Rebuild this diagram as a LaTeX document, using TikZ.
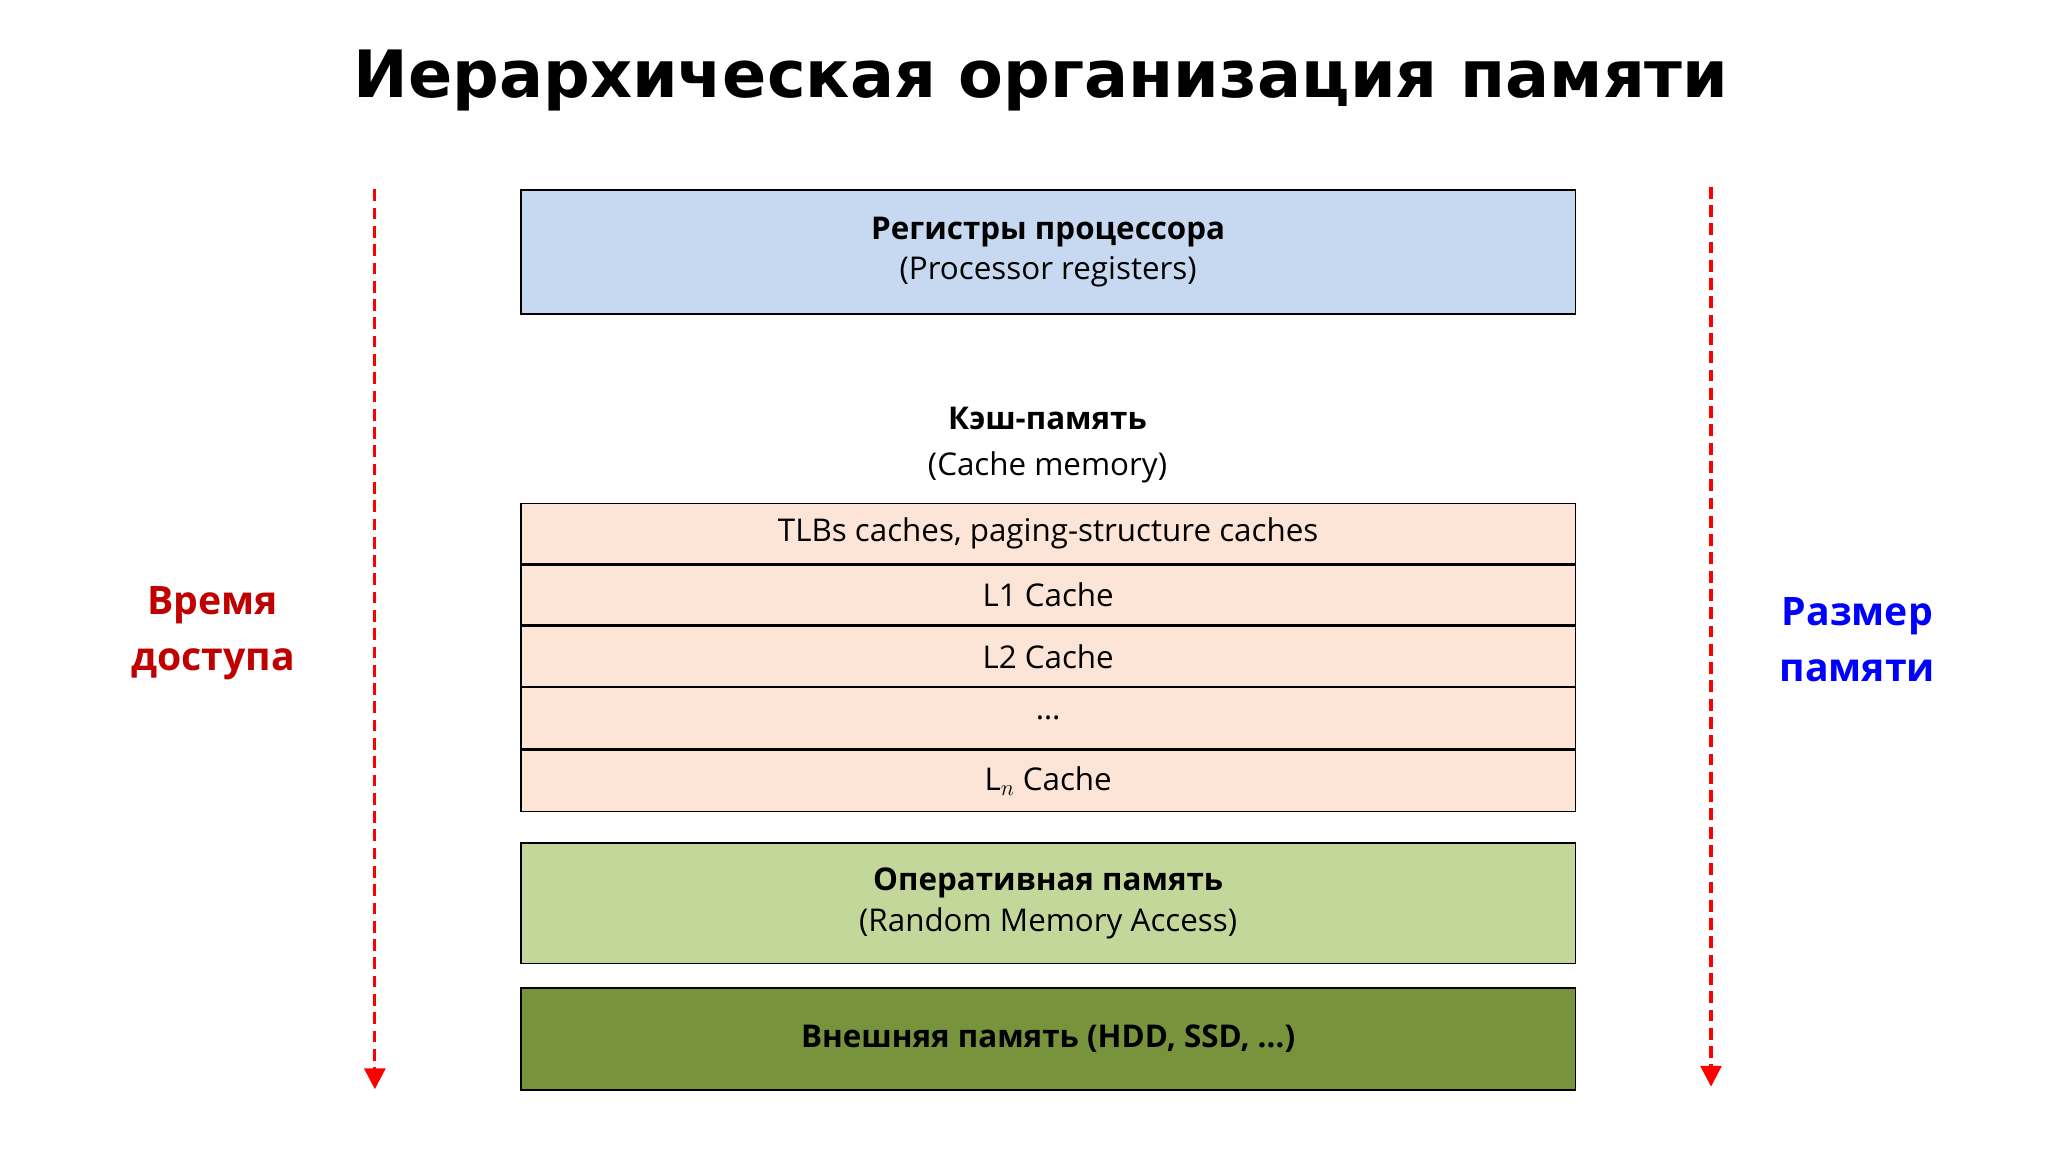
\documentclass[tikz,border=0pt]{standalone}
\usepackage{fontspec}
\setmainfont{Open Sans}
\newfontfamily\titlefont{DejaVu Sans}
\usetikzlibrary{arrows.meta}
\definecolor{regc}{HTML}{C6D9F1}
\definecolor{cachec}{HTML}{FCE4D6}
\definecolor{ramc}{HTML}{C4D79B}
\definecolor{extc}{HTML}{77933C}
\definecolor{dred}{HTML}{C00000}
\tikzset{
 blk/.style={draw=black, line width=1pt, minimum width=807pt, anchor=north, align=center, font=\fontsize{24}{31}\selectfont, inner sep=0pt},
 arr/.style={red, dashed, line width=2.5pt, dash pattern=on 9pt off 5pt, -{Triangle[length=16pt,width=16pt]}},
 side/.style={font=\bfseries\fontsize{30}{43}\selectfont, align=center}
}
\begin{document}
\begin{tikzpicture}[x=1pt,y=1pt]
\useasboundingbox (0,0) rectangle (1568,882);
\node[font=\titlefont\bfseries\fontsize{50}{60}\selectfont] (title) at (797,820) {Иерархическая организация памяти};
\node[blk, fill=regc, minimum height=95pt] (reg) at (802.5,737) {\textbf{Регистры процессора}\\(Processor registers)};
\node[align=center, font=\fontsize{24}{35}\selectfont] (cm) at (802,541) {\textbf{Кэш-память}\\(Cache memory)};
\node[blk, fill=cachec, minimum height=46pt] (c1) at (802.5,497) {TLBs caches, paging-structure caches};
\node[blk, fill=cachec, minimum height=46pt] (c2) at (c1.south) {L1 Cache};
\node[blk, fill=cachec, minimum height=46pt] (c3) at (c2.south) {L2 Cache};
\node[blk, fill=cachec, minimum height=47pt] (c4) at (c3.south) {…};
\node[blk, fill=cachec, minimum height=47pt] (c5) at (c4.south) {L$_n$ Cache};
\node[blk, fill=ramc, minimum height=92pt] (ram) at (802.5,237) {\textbf{Оперативная память}\\(Random Memory Access)};
\node[blk, fill=extc, minimum height=78pt] (ext) at (802.5,126) {\textbf{Внешняя память (HDD, SSD, …)}};
\coordinate (l1) at (287,737); \coordinate (l2) at (287,48);
\coordinate (r1) at (1310,739); \coordinate (r2) at (1310,50);
\draw[arr] (l1) -- (l2);
\draw[arr] (r1) -- (r2);
\node[side, text=dred] (lt) at (163,397) {Время\\доступа};
\node[side, text=blue] (rt) at (1422,392) {Размер\\памяти};
\end{tikzpicture}
\end{document}
